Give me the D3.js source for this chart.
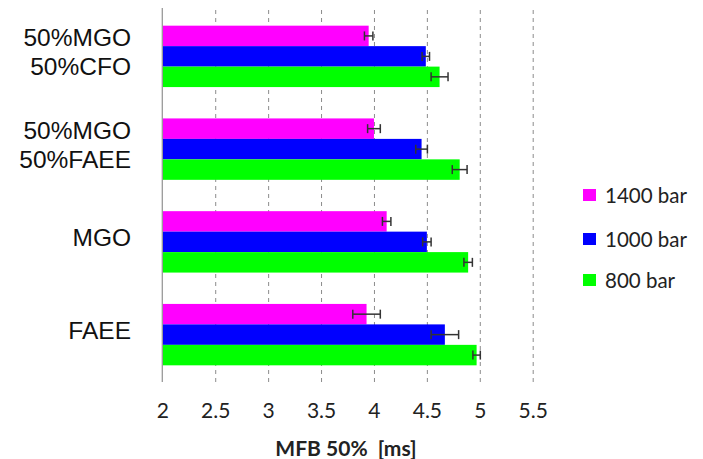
<!DOCTYPE html>
<html>
<head>
<meta charset="utf-8">
<script src="https://cdn.jsdelivr.net/npm/d3@7"></script>
<style>
  body { margin: 0; background: #fff; }
  svg { display: block; }
</style>
</head>
<body>
<svg id="chart"></svg>
<script>
// fuel blends (top to bottom), each label may have two lines
const categories = ["50%MGO|50%CFO", "50%MGO|50%FAEE", "MGO", "FAEE"];
const series = ["1400 bar", "1000 bar", "800 bar"];
const colors = ["#ff00ff", "#0000ff", "#00ff00"];

// MFB 50% values [ms], one array per injection pressure, in category order
const values1400 = [3.95, 4.00, 4.12, 3.93];
const values1000 = [4.49, 4.45, 4.50, 4.67];
const values800  = [4.62, 4.81, 4.89, 4.97];

// error bar half widths [ms]
const err1400 = [0.04, 0.06, 0.04, 0.13];
const err1000 = [0.035, 0.055, 0.04, 0.13];
const err800  = [0.08, 0.07, 0.04, 0.035];

const tickValues = [2, 2.5, 3, 3.5, 4, 4.5, 5, 5.5];

const allValues = [values1400, values1000, values800];
const allErrs = [err1400, err1000, err800];

const width = 703, height = 459;
const margin = {top: 9, right: 171, bottom: 78, left: 162};

const svg = d3.select('#chart')
    .attr('width', width)
    .attr('height', height);

const x = d3.scaleLinear().domain([2, 5.5]).range([margin.left + 0.3, width - margin.right + 0.7]);
const y = d3.scaleBand().domain(categories)
    .range([margin.top + 1, height - margin.bottom])
    .paddingInner(0.338).paddingOuter(0.169);
const ySub = d3.scaleBand().domain(series).range([0, y.bandwidth()]);

// dashed grid lines
svg.append('g')
    .attr('transform', `translate(0,${height - margin.bottom + 1})`)
    .call(d3.axisBottom(x).tickValues(tickValues.slice(1)).tickSize(-(height - margin.bottom - margin.top)).tickFormat(''))
    .call(g => g.select('.domain').remove())
    .call(g => g.selectAll('line')
        .attr('stroke', '#8c8c8c')
        .attr('stroke-width', 1)
        .attr('stroke-dasharray', '4,4'));

// bars
const rows = [];
categories.forEach((c, i) => {
    series.forEach((s, j) => {
        rows.push({cat: c, ser: s, v: allValues[j][i], e: allErrs[j][i], color: colors[j]});
    });
});

svg.append('g').selectAll('rect')
    .data(rows)
    .join('rect')
    .attr('x', x(2))
    .attr('y', d => y(d.cat) + ySub(d.ser))
    .attr('width', d => x(d.v) - x(2))
    .attr('height', ySub.bandwidth())
    .attr('fill', d => d.color);

// error bars
const eb = svg.append('g')
    .attr('stroke', '#333')
    .attr('stroke-width', 1.5)
    .selectAll('g')
    .data(rows)
    .join('g')
    .attr('transform', d => `translate(0,${y(d.cat) + ySub(d.ser) + ySub.bandwidth() / 2})`);

eb.append('line')
    .attr('x1', d => x(d.v - d.e)).attr('x2', d => x(d.v + d.e));
eb.append('line')
    .attr('x1', d => x(d.v - d.e)).attr('x2', d => x(d.v - d.e))
    .attr('y1', -4.5).attr('y2', 4.5);
eb.append('line')
    .attr('x1', d => x(d.v + d.e)).attr('x2', d => x(d.v + d.e))
    .attr('y1', -4.5).attr('y2', 4.5);

// vertical axis line at x = 2
svg.append('line')
    .attr('x1', x(2)).attr('x2', x(2))
    .attr('y1', margin.top - 1).attr('y2', height - margin.bottom + 1)
    .attr('stroke', '#999')
    .attr('stroke-width', 1.3);

// category labels
const catLabels = svg.append('g')
    .selectAll('text')
    .data(categories)
    .join('text')
    .attr('text-anchor', 'end')
    .attr('font-family', 'Liberation Sans, Arial, sans-serif')
    .attr('font-size', 24.5)
    .attr('fill', '#111');

catLabels.each(function(c) {
    const lines = c.split('|');
    const cy = y(c) + y.bandwidth() / 2 - 5;
    const lh = 29;
    lines.forEach((l, k) => {
        d3.select(this).append('tspan')
            .attr('x', 131)
            .attr('y', cy + (k - (lines.length - 1) / 2) * lh + 9)
            .text(l);
    });
});

// bottom axis tick labels
svg.append('g')
    .attr('transform', `translate(0,${height - margin.bottom})`)
    .call(d3.axisBottom(x).tickValues(tickValues).tickSize(0).tickPadding(22).tickFormat(d => String(d)))
    .call(g => g.select('.domain').remove())
    .call(g => g.selectAll('text')
        .attr('font-family', 'Lato, sans-serif')
        .attr('font-size', 21)
        .attr('fill', '#222'));

// axis title
svg.append('text')
    .attr('x', 346)
    .attr('y', 456)
    .attr('text-anchor', 'middle')
    .attr('font-family', 'Lato, sans-serif')
    .attr('font-weight', 'bold')
    .attr('font-size', 21)
    .attr('fill', '#222')
    .attr('xml:space', 'preserve')
    .text('MFB 50%  [ms]');

// legend
const legendY = [195, 239, 280];
const legend = svg.append('g')
    .selectAll('g')
    .data(series)
    .join('g')
    .attr('transform', (d, i) => `translate(583,${legendY[i]})`);

legend.append('rect')
    .attr('x', 0).attr('y', -6)
    .attr('width', 13).attr('height', 12)
    .attr('fill', (d, i) => colors[i]);

legend.append('text')
    .attr('x', 22)
    .attr('y', 7.5)
    .attr('font-family', 'Lato, sans-serif')
    .attr('font-size', 20.5)
    .attr('fill', '#222')
    .text(d => d);
</script>
</body>
</html>
